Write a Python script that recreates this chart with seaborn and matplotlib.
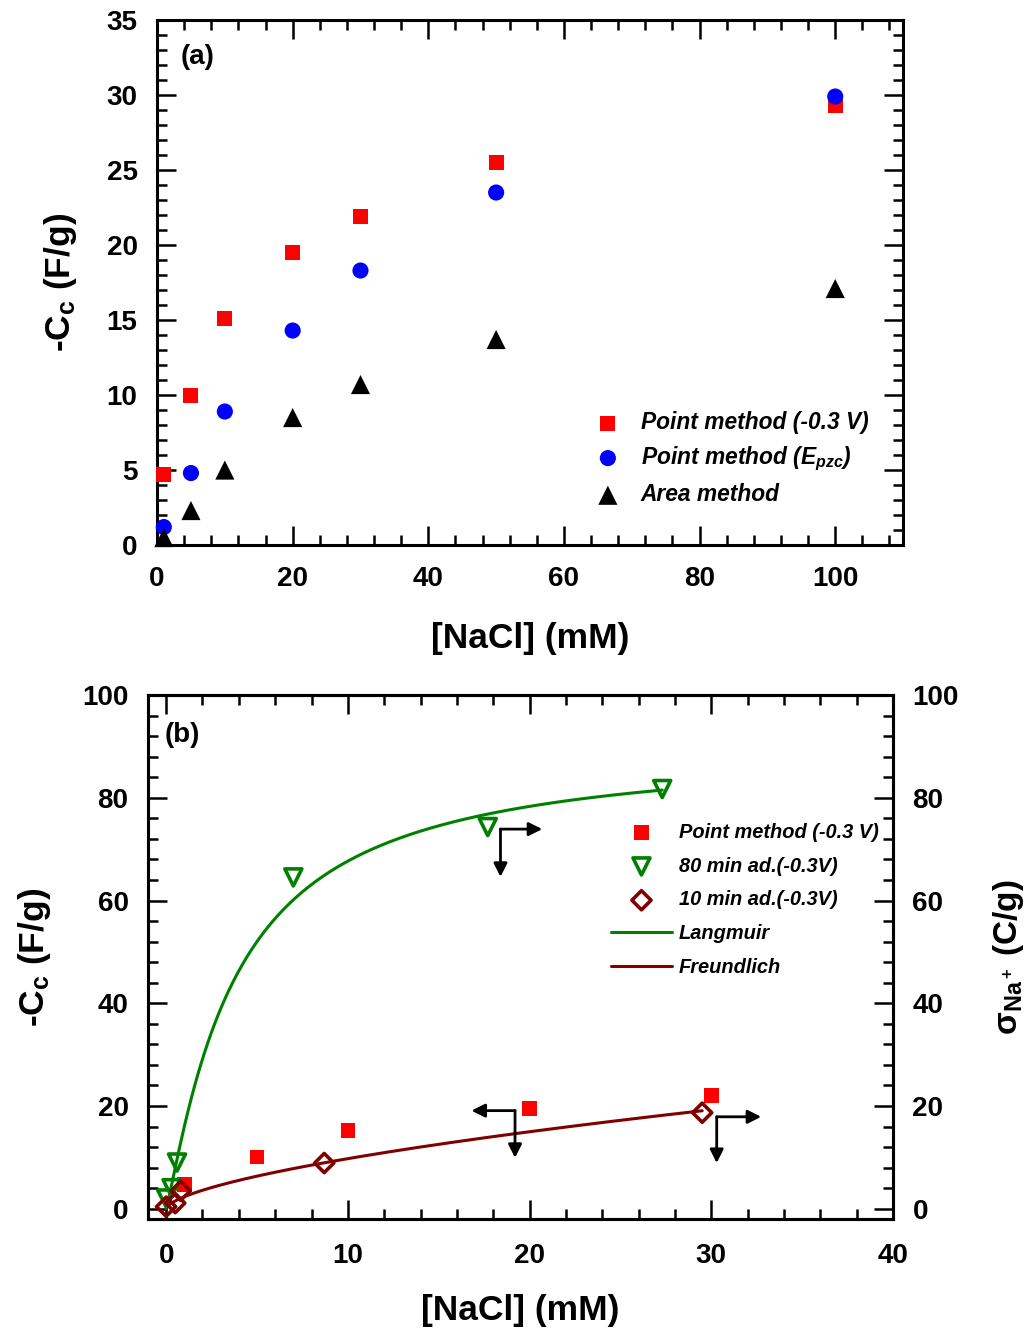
import numpy as np
import pandas as pd
import matplotlib
matplotlib.use("Agg")
import matplotlib.pyplot as plt
import seaborn as sns
from matplotlib.ticker import MultipleLocator

# ---------------- data: panel (a) ----------------
conc_a = [1, 5, 10, 20, 30, 50, 100]
point_m03 = [4.7, 10.0, 15.1, 19.5, 21.9, 25.5, 29.3]
point_pzc = [1.2, 4.8, 8.9, 14.3, 18.3, 23.5, 29.9]
area_method = [0.5, 2.3, 5.0, 8.5, 10.7, 13.7, 17.1]

# ---------------- data: panel (b) ----------------
conc_b_sq = [1, 5, 10, 20, 30]
point_b = [4.7, 10.1, 15.2, 19.5, 22.0]
conc_80 = [0.0, 0.3, 0.6, 7.0, 17.7, 27.3]
ad80 = [2.0, 4.0, 9.0, 64.5, 74.3, 81.7]
conc_10 = [0.0, 0.5, 0.8, 8.7, 29.5]
ad10 = [0.4, 1.1, 3.5, 8.9, 18.7]

# fitted isotherm parameters
lang_qm, lang_K, lang_n, lang_cmax = 90.0, 0.263, 1.1466, 27.3
freu_K, freu_n, freu_cmax = 2.34, 0.62, 29.5

sns.set_style("ticks")
plt.rcParams["font.family"] = ["Liberation Sans", "DejaVu Sans"]
plt.rcParams["font.weight"] = "bold"
plt.rcParams["axes.labelweight"] = "bold"
plt.rcParams["text.color"] = "black"
plt.rcParams["axes.labelcolor"] = "black"
plt.rcParams["xtick.color"] = "black"
plt.rcParams["ytick.color"] = "black"
plt.rcParams["axes.edgecolor"] = "black"
plt.rcParams["mathtext.fontset"] = "custom"
plt.rcParams["mathtext.rm"] = "Liberation Sans:bold"
plt.rcParams["mathtext.bf"] = "Liberation Sans:bold"
plt.rcParams["mathtext.it"] = "Liberation Sans:italic:bold"
plt.rcParams["mathtext.default"] = "rm"

RED, BLUE, GREEN, DRED = "#ff0000", "#0000ff", "#008000", "#800000"
TICK_FS, LABEL_FS = 20, 25.5

fig = plt.figure(figsize=(10.29, 13.33), dpi=100)
ax1 = fig.add_axes([0.1526, 0.5911, 0.7250, 0.3939])
ax2 = fig.add_axes([0.1438, 0.0855, 0.7240, 0.3931])


def style_axis(ax, right=True):
    for sp in ax.spines.values():
        sp.set_linewidth(2.2)
        sp.set_color("black")
        sp.set_visible(True)
    ax.tick_params(which="both", direction="in", top=True, right=right,
                   width=1.8, colors="black")
    ax.tick_params(which="major", length=13.5, labelsize=TICK_FS)
    ax.tick_params(which="minor", length=7)
    ax.tick_params(axis="x", which="major", pad=15)
    ax.tick_params(axis="y", which="major", pad=14)
    for lab in ax.get_xticklabels() + ax.get_yticklabels():
        lab.set_fontweight("bold")


# ---------------- panel (a) ----------------
dfa = pd.DataFrame({"c": conc_a, "p03": point_m03, "pzc": point_pzc, "area": area_method})
sns.scatterplot(data=dfa, x="c", y="p03", ax=ax1, marker="s", s=117, color=RED,
                edgecolor="none", clip_on=False, zorder=3, label="Point method (-0.3 V)")
sns.scatterplot(data=dfa, x="c", y="pzc", ax=ax1, marker="o", s=135, color=BLUE,
                edgecolor="none", clip_on=False, zorder=3,
                label=r"Point method ($\mathit{E_{pzc}}$)")
sns.scatterplot(data=dfa, x="c", y="area", ax=ax1, marker="^", s=190, color="black",
                edgecolor="none", clip_on=False, zorder=3, label="Area method")
ax1.set_xlim(0, 110)
ax1.set_ylim(0, 35)
ax1.xaxis.set_major_locator(MultipleLocator(20))
ax1.xaxis.set_minor_locator(MultipleLocator(4))
ax1.yaxis.set_major_locator(MultipleLocator(5))
ax1.yaxis.set_minor_locator(MultipleLocator(1))
style_axis(ax1)
ax1.set_xlabel("[NaCl] (mM)", fontsize=LABEL_FS, fontweight="bold")
ax1.set_ylabel(r"-C$_\mathrm{c}$ (F/g)", fontsize=LABEL_FS, fontweight="bold")
ax1.xaxis.set_label_coords(0.5, -0.146)
ax1.yaxis.set_label_coords(-0.105, 0.5)
ax1.text(0.031, 0.93, "(a)", transform=ax1.transAxes, fontsize=20,
         fontweight="bold", va="center", ha="left")
ax1.legend(loc="upper left", bbox_to_anchor=(0.586, 0.2547), frameon=False,
           borderpad=0, borderaxespad=0, handlelength=1.2, handletextpad=0.85,
           labelspacing=0.45,
           prop=dict(family="Liberation Sans", weight="bold", style="italic", size=16.4))

# ---------------- panel (b) ----------------
c_l = np.linspace(0.0, lang_cmax, 300)
y_l = lang_qm * (lang_K * c_l) ** lang_n / (1 + (lang_K * c_l) ** lang_n)
c_f = np.linspace(0.03, freu_cmax, 300)
y_f = freu_K * c_f ** freu_n
dfl = pd.DataFrame({"c": c_l, "q": y_l})
dff = pd.DataFrame({"c": c_f, "q": y_f})

sns.lineplot(data=dfl, x="c", y="q", ax=ax2, color=GREEN, lw=2.2, zorder=2,
             label="Langmuir", sort=False)
sns.lineplot(data=dff, x="c", y="q", ax=ax2, color=DRED, lw=2.2, zorder=2,
             label="Freundlich", sort=False)

dsq = pd.DataFrame({"c": conc_b_sq, "q": point_b})
d80 = pd.DataFrame({"c": conc_80, "q": ad80})
d10 = pd.DataFrame({"c": conc_10, "q": ad10})
sns.scatterplot(data=dsq, x="c", y="q", ax=ax2, marker="s", s=110, color=RED,
                edgecolor="none", clip_on=False, zorder=3, label="Point method (-0.3 V)")
sns.scatterplot(data=d80, x="c", y="q", ax=ax2, marker="v", s=150, color=GREEN,
                clip_on=False, zorder=4, label="80 min ad.(-0.3V)")
c80 = ax2.collections[-1]
c80.set_facecolor("none"); c80.set_edgecolor(GREEN); c80.set_linewidth(2.6)
sns.scatterplot(data=d10, x="c", y="q", ax=ax2, marker="D", s=95, color=DRED,
                clip_on=False, zorder=4, label="10 min ad.(-0.3V)")
c10 = ax2.collections[-1]
c10.set_facecolor("none"); c10.set_edgecolor(DRED); c10.set_linewidth(2.6)

ax2.set_xlim(-1, 40)
ax2.set_ylim(-2, 100)
ax2.xaxis.set_major_locator(MultipleLocator(10))
ax2.xaxis.set_minor_locator(MultipleLocator(2))
ax2.yaxis.set_major_locator(MultipleLocator(20))
ax2.yaxis.set_minor_locator(MultipleLocator(4))
style_axis(ax2, right=False)
ax2.tick_params(axis="x", which="major", pad=17)
ax2.set_xlabel("[NaCl] (mM)", fontsize=LABEL_FS, fontweight="bold")
ax2.set_ylabel(r"-C$_\mathrm{c}$ (F/g)", fontsize=LABEL_FS, fontweight="bold")
ax2.xaxis.set_label_coords(0.5, -0.143)
ax2.yaxis.set_label_coords(-0.128, 0.5)
ax2.text(0.023, 0.924, "(b)", transform=ax2.transAxes, fontsize=20,
         fontweight="bold", va="center", ha="left")

ax3 = ax2.twinx()
ax3.set_ylim(-2, 100)
ax3.yaxis.set_major_locator(MultipleLocator(20))
ax3.yaxis.set_minor_locator(MultipleLocator(4))
ax3.tick_params(which="both", direction="in", right=True, left=False, width=1.8,
                colors="black")
ax3.tick_params(which="major", length=13.5, labelsize=TICK_FS, pad=14)
ax3.tick_params(which="minor", length=7)
for sp in ax3.spines.values():
    sp.set_linewidth(2.2)
    sp.set_color("black")
for lab in ax3.get_yticklabels():
    lab.set_fontweight("bold")
ax3.set_ylabel(r"σ$_{\mathrm{Na^+}}$ (C/g)", fontsize=24, fontweight="bold")
ax3.yaxis.set_label_coords(1.131, 0.5)

# elbow arrows
arrow_kw = dict(arrowstyle="-|>", lw=2.0, color="black", mutation_scale=20,
                shrinkA=0, shrinkB=0)
elbows = [((18.4, 73.9), (20.7, 73.9), (18.4, 64.6)),
          ((19.2, 19.1), (16.8, 19.1), (19.2, 9.9)),
          ((30.3, 17.9), (32.75, 17.9), (30.3, 8.9))]
for corner, h_end, v_end in elbows:
    ax2.annotate("", xy=h_end, xytext=corner, arrowprops=arrow_kw)
    ax2.annotate("", xy=v_end, xytext=corner, arrowprops=arrow_kw)

h, l = ax2.get_legend_handles_labels()
order = ["Point method (-0.3 V)", "80 min ad.(-0.3V)", "10 min ad.(-0.3V)",
         "Langmuir", "Freundlich"]
hd = dict(zip(l, h))
ax2.legend([hd[k] for k in order], order, loc="upper left",
           bbox_to_anchor=(0.6215, 0.756), frameon=False, borderpad=0,
           borderaxespad=0, handlelength=3.05, handletextpad=0.35,
           labelspacing=0.74,
           prop=dict(family="Liberation Sans", weight="bold", style="italic", size=14.4))

fig.savefig("out.png", dpi=100)
